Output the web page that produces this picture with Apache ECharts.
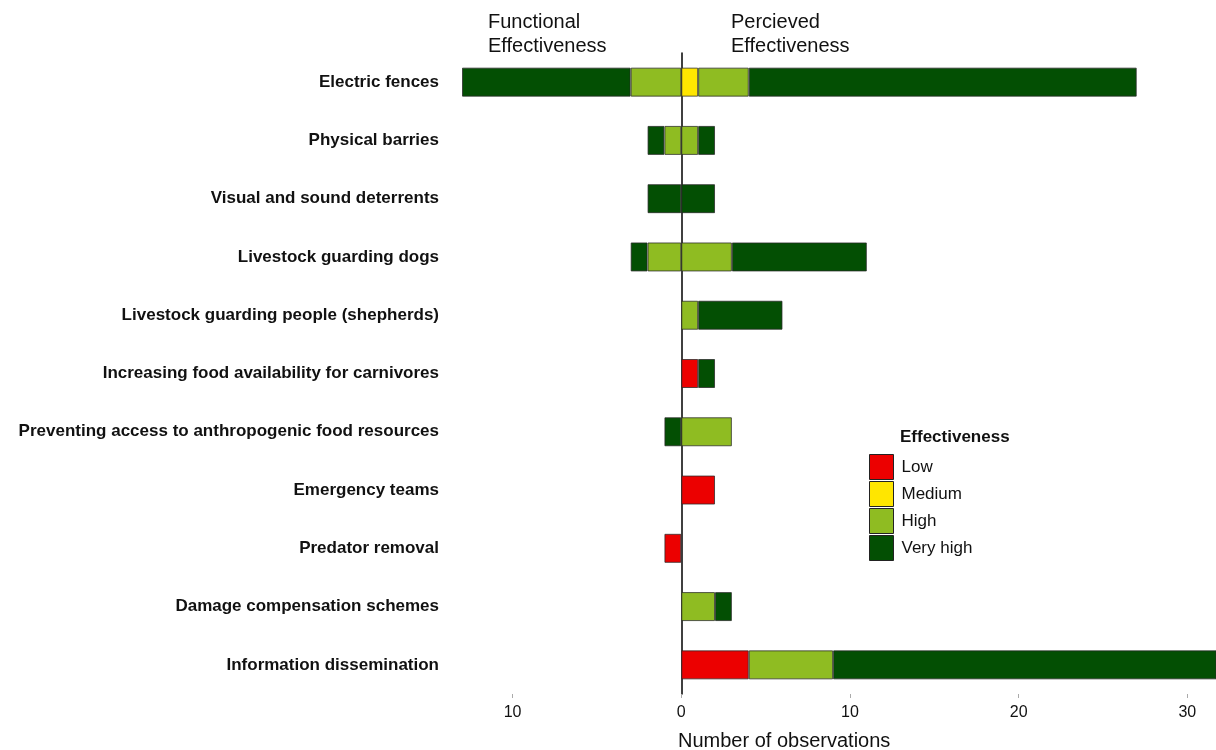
<!DOCTYPE html>
<html>
<head>
<meta charset="utf-8">
<script src="https://cdn.jsdelivr.net/npm/echarts@6/dist/echarts.min.js"></script>
<style>html,body{margin:0;padding:0;background:#fff}#c{width:1216px;height:750px}</style>
</head>
<body>
<div id="c"></div>
<script>
const categories = [
  'Electric fences',
  'Physical barries',
  'Visual and sound deterrents',
  'Livestock guarding dogs',
  'Livestock guarding people (shepherds)',
  'Increasing food availability for carnivores',
  'Preventing access to anthropogenic food resources',
  'Emergency teams',
  'Predator removal',
  'Damage compensation schemes',
  'Information dissemination'
];
const levels = ['Low', 'Medium', 'High', 'Very high'];
// Functional effectiveness (drawn to the left)
const functionalLow      = [0, 0, 0, 0, 0, 0, 0, 0, 1, 0, 0];
const functionalMedium   = [0, 0, 0, 0, 0, 0, 0, 0, 0, 0, 0];
const functionalHigh     = [3, 1, 0, 2, 0, 0, 0, 0, 0, 0, 0];
const functionalVeryHigh = [10, 1, 2, 1, 0, 0, 1, 0, 0, 0, 0];
// Perceived effectiveness (drawn to the right)
const perceivedLow      = [0, 0, 0, 0, 0, 1, 0, 2, 0, 0, 4];
const perceivedMedium   = [1, 0, 0, 0, 0, 0, 0, 0, 0, 0, 0];
const perceivedHigh     = [3, 1, 0, 3, 1, 0, 3, 0, 0, 2, 5];
const perceivedVeryHigh = [23, 1, 2, 8, 5, 1, 0, 0, 0, 1, 23];
const tickValues = [-10, 0, 10, 20, 30];

const colors = { 'Low': '#ec0000', 'Medium': '#ffe600', 'High': '#8fbc22', 'Very high': '#034f03' };

const chart = echarts.init(document.getElementById('c'), null, { renderer: 'canvas' });

function mk(name, arr, sign) {
  return {
    name: name,
    type: 'bar',
    stack: 'obs',
    barWidth: 29,
    data: arr.map(v => v === 0 ? '-' : sign * v),
    itemStyle: { color: colors[name], borderColor: 'rgba(40,40,40,0.75)', borderWidth: 1 },
    emphasis: { disabled: true }
  };
}

const series = [
  mk('Low', perceivedLow, 1),
  mk('Medium', perceivedMedium, 1),
  mk('High', perceivedHigh, 1),
  mk('Very high', perceivedVeryHigh, 1),
  mk('Low', functionalLow, -1),
  mk('Medium', functionalMedium, -1),
  mk('High', functionalHigh, -1),
  mk('Very high', functionalVeryHigh, -1)
];

const font = 'Liberation Sans, Arial, sans-serif';

chart.setOption({
  animation: false,
  textStyle: { fontFamily: font },
  grid: { left: 462, right: 0, top: 53, bottom: 56, containLabel: false },
  xAxis: {
    type: 'value',
    min: -13,
    max: 31.7,
    splitLine: { show: false },
    axisLine: { show: false },
    axisTick: { show: true, customValues: tickValues, length: 4, lineStyle: { color: '#aaa' } },
    axisLabel: {
      customValues: tickValues,
      formatter: v => String(Math.abs(v)),
      color: '#111', fontSize: 16, fontFamily: font, margin: 11
    }
  },
  yAxis: {
    type: 'category',
    inverse: true,
    data: categories,
    axisLine: { show: true, onZero: true, lineStyle: { color: '#000', width: 1.5 } },
    axisTick: { show: false },
    axisLabel: { fontWeight: 'bold', fontSize: 17, color: '#111', fontFamily: font, margin: 23 }
  },
  legend: {
    data: levels,
    orient: 'vertical',
    left: 869,
    top: 454,
    padding: 0,
    itemWidth: 24,
    itemHeight: 25,
    itemGap: 1,
    icon: 'rect',
    itemStyle: { borderColor: '#222', borderWidth: 1 },
    textStyle: { fontSize: 17, color: '#111', fontFamily: font, padding: [0, 0, 0, 3] }
  },
  graphic: [
    { type: 'text', left: 488, top: 10, style: { text: 'Functional\nEffectiveness', font: '20px ' + font, fill: '#111', lineHeight: 24 } },
    { type: 'text', left: 731, top: 10, style: { text: 'Percieved\nEffectiveness', font: '20px ' + font, fill: '#111', lineHeight: 24 } },
    { type: 'text', left: 900, top: 429, style: { text: 'Effectiveness', font: 'bold 17px ' + font, fill: '#111' } },
    { type: 'text', left: 678, top: 731, style: { text: 'Number of observations', font: '20px ' + font, fill: '#111' } }
  ],
  series: series
});
</script>
</body>
</html>
